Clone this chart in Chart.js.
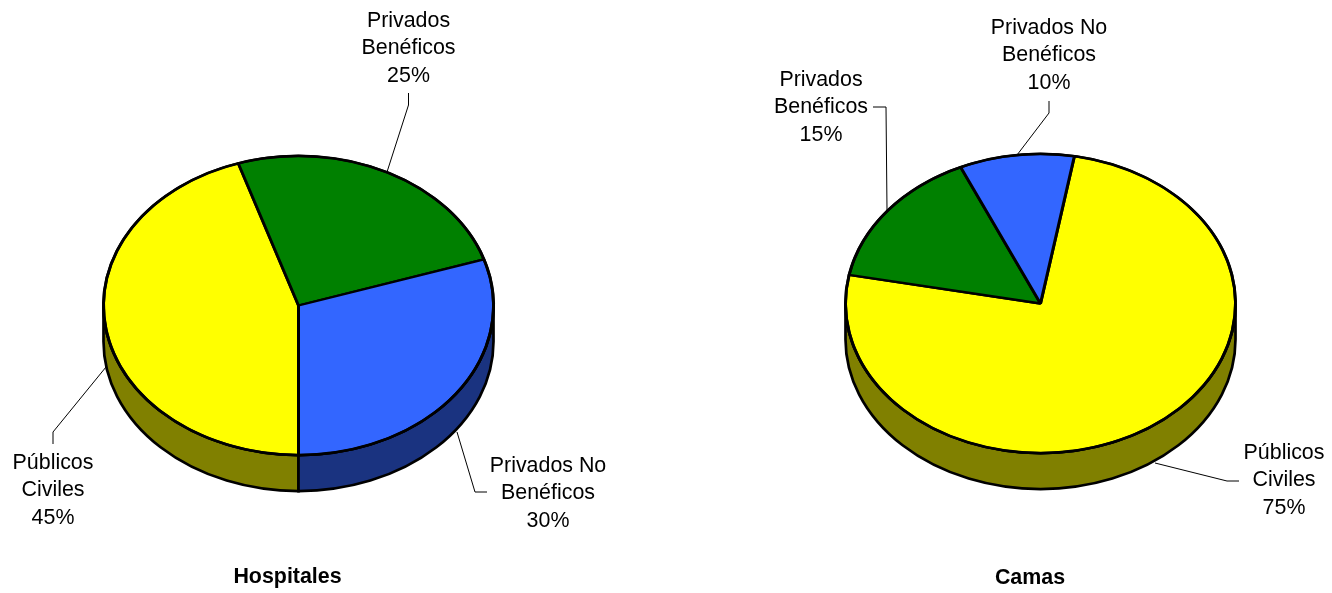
<!DOCTYPE html>
<html>
<head>
<meta charset="utf-8">
<script src="https://cdn.jsdelivr.net/npm/chart.js@4"></script>
<style>
html, body { margin: 0; padding: 0; background: #fff; overflow: hidden; }
.box { position: absolute; top: 0; width: 666px; height: 593px; }
</style>
</head>
<body>
<div class="box" style="left:0"><canvas id="hospitales"></canvas></div>
<div class="box" style="left:666px"><canvas id="camas"></canvas></div>
<script>
const categories = ['Públicos Civiles', 'Privados Benéficos', 'Privados No Benéficos'];
const hospitalesValues = [45, 25, 30];
const camasValues = [75.3, 15.2, 9.5];   // labels show these rounded

const topColors = ['#ffff00', '#008000', '#3366ff'];
const wallColors = ['#808000', '#004000', '#1a3380'];

const tilt = 0.767;   // flattening of the pie
const depth = 36;     // height of the side wall
const rimWidth = 2.7;
const font = '"Liberation Sans", Arial, sans-serif';

// lines of each callout, same order as categories
const hospitalesLabels = [
    ['Públicos', 'Civiles', '45%'],
    ['Privados', 'Benéficos', '25%'],
    ['Privados No', 'Benéficos', '30%']
];
const camasLabels = [
    ['Públicos', 'Civiles', '75%'],
    ['Privados', 'Benéficos', '15%'],
    ['Privados No', 'Benéficos', '10%']
];

// text anchor (centre x, first line y) and leader line for each callout
const hospitalesCallouts = [
    { x: 53, y: 463, line: [[106, 367], [53, 432], [53, 444]] },
    { x: 408.5, y: 21, line: [[387, 172], [408.5, 105], [408.5, 93]] },
    { x: 548, y: 466, line: [[457, 432], [475, 492], [487, 492]] }
];
const camasCallouts = [
    { x: 618, y: 453, line: [[489, 463], [561, 481], [573, 481]] },
    { x: 155, y: 80, line: [[221, 210], [220, 107], [207, 107]] },
    { x: 383, y: 28, line: [[351, 155], [383, 113], [383, 101]] }
];

const pie3d = {
    id: 'pie3d',
    beforeDatasetsDraw(chart) {
        const { ctx } = chart;
        const arcs = chart.getDatasetMeta(0).data;
        const cy = arcs[0].y;

        // side wall: only the part of each slice on the front half shows
        arcs.forEach((arc, i) => {
            for (let k = -1; k <= 1; k++) {
                const a1 = Math.max(arc.startAngle, 2 * k * Math.PI);
                const a2 = Math.min(arc.endAngle, Math.PI + 2 * k * Math.PI);
                if (a2 <= a1) continue;
                const ry = arc.outerRadius * tilt;
                ctx.beginPath();
                ctx.ellipse(arc.x, cy, arc.outerRadius, ry, 0, a1, a2);
                ctx.ellipse(arc.x, cy + depth, arc.outerRadius, ry, 0, a2, a1, true);
                ctx.closePath();
                ctx.fillStyle = wallColors[i];
                ctx.fill();
                ctx.strokeStyle = '#000';
                ctx.lineWidth = rimWidth;
                ctx.stroke();
            }
        });

        // top face: squash the library's arcs around the pie centre
        ctx.save();
        ctx.translate(0, cy);
        ctx.scale(1, tilt);
        ctx.translate(0, -cy);
    },
    afterDatasetsDraw(chart, args, opts) {
        const { ctx } = chart;
        ctx.restore();

        // redo the rim so the line keeps its width after squashing
        const arc = chart.getDatasetMeta(0).data[0];
        ctx.beginPath();
        ctx.ellipse(arc.x, arc.y, arc.outerRadius, arc.outerRadius * tilt, 0, 0, 2 * Math.PI);
        ctx.strokeStyle = '#000';
        ctx.lineWidth = rimWidth;
        ctx.stroke();

        // callouts
        ctx.save();
        ctx.strokeStyle = '#000';
        ctx.lineWidth = 1;
        ctx.fillStyle = '#000';
        ctx.textAlign = 'center';
        ctx.textBaseline = 'middle';
        ctx.font = '21.4px ' + font;
        opts.callouts.forEach((c, i) => {
            ctx.beginPath();
            c.line.forEach((p, j) => j ? ctx.lineTo(p[0], p[1]) : ctx.moveTo(p[0], p[1]));
            ctx.stroke();
            opts.labels[i].forEach((text, j) => ctx.fillText(text, c.x, c.y + j * 27.5));
        });

        // caption below the pie
        ctx.font = 'bold 21.4px ' + font;
        ctx.fillText(opts.caption, opts.captionX, opts.captionY);
        ctx.restore();
    }
};

function makePie(id, values, padding, options) {
    return new Chart(document.getElementById(id).getContext('2d'), {
        type: 'pie',
        data: {
            labels: categories,
            datasets: [{
                data: values,
                backgroundColor: topColors,
                borderColor: '#000',
                borderWidth: 3
            }]
        },
        options: {
            responsive: true,
            maintainAspectRatio: false,
            animation: false,
            rotation: options.rotation,
            layout: { padding: padding },
            plugins: {
                legend: { display: false },
                tooltip: { enabled: false },
                pie3d: options
            }
        },
        plugins: [pie3d]
    });
}

makePie('hospitales', hospitalesValues, { left: 102, right: 171, top: 109, bottom: 91 }, {
    rotation: 180,
    labels: hospitalesLabels,
    callouts: hospitalesCallouts,
    caption: 'Hospitales',
    captionX: 287.5,
    captionY: 577
});

makePie('camas', camasValues, { left: 178, right: 95, top: 107, bottom: 93 }, {
    rotation: 10,
    labels: camasLabels,
    callouts: camasCallouts,
    caption: 'Camas',
    captionX: 364,
    captionY: 578
});
</script>
</body>
</html>
